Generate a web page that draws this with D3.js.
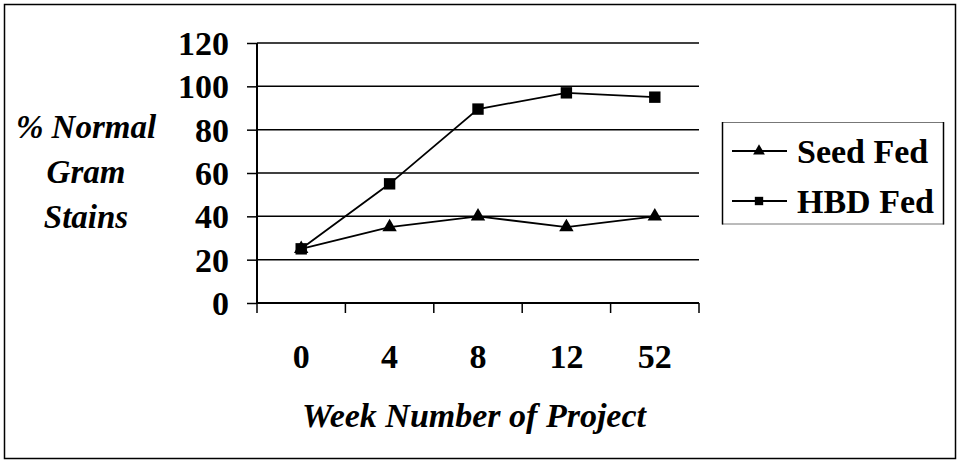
<!DOCTYPE html>
<html>
<head>
<meta charset="utf-8">
<script src="https://cdn.jsdelivr.net/npm/d3@7"></script>
</head>
<body style="margin:0">
<svg width="961" height="462" font-family="Liberation Serif"></svg>
<script>
var weeks = ['0', '4', '8', '12', '52'];
var seedFed = [25, 35, 40, 35, 40];
var hbdFed = [25, 55, 89.5, 97, 95];
var yTicks = [0, 20, 40, 60, 80, 100, 120];
var seriesNames = ['Seed Fed', 'HBD Fed'];
var yLabelLines = ['% Normal', 'Gram', 'Stains'];
var xTitle = 'Week Number of Project';

var svg = d3.select('svg');

function styleText(sel, italic, size) {
    sel.attr('font-family', 'Liberation Serif')
        .attr('font-weight', 'bold')
        .attr('font-style', italic ? 'italic' : 'normal')
        .attr('font-size', size || 34)
        .attr('fill', '#000');
}

// outer frame
svg.append('rect')
    .attr('x', 4.5).attr('y', 4.5)
    .attr('width', 951).attr('height', 454)
    .attr('fill', 'none')
    .attr('stroke', '#000')
    .attr('stroke-width', 1.5);

var plotL = 257, plotR = 699, plotT = 43, plotB = 303;

var x = d3.scaleBand().domain(weeks).range([plotL, plotR]);
var y = d3.scaleLinear().domain([0, 120]).range([plotB, plotT]);

var g = svg.append('g');

// gridlines
g.selectAll('.grid')
    .data(yTicks.filter(function(d){ return d > 0; }))
    .enter()
    .append('line')
    .attr('x1', plotL).attr('x2', plotR)
    .attr('y1', function(d){ return y(d); })
    .attr('y2', function(d){ return y(d); })
    .attr('stroke', '#000')
    .attr('stroke-width', 1.5);

// y axis
var yAxis = g.append('g')
    .attr('transform', 'translate(' + plotL + ',0)')
    .call(d3.axisLeft(y).tickValues(yTicks).tickSize(10).tickPadding(18));
yAxis.attr('font-family', 'Liberation Serif');
yAxis.select('.domain').attr('stroke-width', 2).attr('d', 'M0,' + plotT + 'V' + plotB);
yAxis.selectAll('.tick line').attr('stroke-width', 1.5);
yAxis.selectAll('.tick text')
    .call(styleText, false)
    .attr('dy', '0.34em');

// x axis: ticks on band boundaries
var bounds = weeks.map(function(w){ return x(w); }).concat([plotR]);
g.append('line')
    .attr('x1', plotL).attr('x2', plotR)
    .attr('y1', plotB).attr('y2', plotB)
    .attr('stroke', '#000').attr('stroke-width', 2);
g.selectAll('.xtick')
    .data(bounds)
    .enter()
    .append('line')
    .attr('x1', function(d){ return d; })
    .attr('x2', function(d){ return d; })
    .attr('y1', plotB).attr('y2', plotB + 10)
    .attr('stroke', '#000').attr('stroke-width', 1.5);
g.selectAll('.xlab')
    .data(weeks)
    .enter()
    .append('text')
    .attr('x', function(d){ return x(d) + x.bandwidth() / 2; })
    .attr('y', 368)
    .attr('text-anchor', 'middle')
    .call(styleText, false)
    .text(function(d){ return d; });

// axis titles
svg.append('text')
    .attr('x', (plotL + plotR) / 2 - 4)
    .attr('y', 427)
    .attr('text-anchor', 'middle')
    .call(styleText, true)
    .text(xTitle);

svg.selectAll('.ylab')
    .data(yLabelLines)
    .enter()
    .append('text')
    .attr('x', 86)
    .attr('y', function(d, i){ return 138 + i * 45; })
    .attr('text-anchor', 'middle')
    .call(styleText, true, 33)
    .text(function(d){ return d; });

// lines
var line = d3.line()
    .x(function(d, i){ return x(weeks[i]) + x.bandwidth() / 2; })
    .y(function(d){ return y(d); });

var tri = d3.symbol().type(d3.symbolTriangle).size(90);
var sq = d3.symbol().type(d3.symbolSquare).size(130);

[seedFed, hbdFed].forEach(function(vals, k){
    g.append('path')
        .datum(vals)
        .attr('d', line)
        .attr('fill', 'none')
        .attr('stroke', '#000')
        .attr('stroke-width', 1.8);
    g.selectAll('.m' + k)
        .data(vals)
        .enter()
        .append('path')
        .attr('transform', function(d, i){
            return 'translate(' + (x(weeks[i]) + x.bandwidth() / 2) + ',' + y(d) + ')';
        })
        .attr('d', k === 0 ? tri : sq)
        .attr('fill', '#000');
});

// legend
var leg = svg.append('g');
leg.append('rect')
    .attr('x', 722.5).attr('y', 122.5)
    .attr('width', 221).attr('height', 101.5)
    .attr('fill', '#fff')
    .attr('stroke', '#777')
    .attr('stroke-width', 1);
leg.append('line').attr('x1', 722.5).attr('x2', 722.5).attr('y1', 122).attr('y2', 224.5)
    .attr('stroke', '#000').attr('stroke-width', 1.5);
leg.append('line').attr('x1', 943.5).attr('x2', 943.5).attr('y1', 122).attr('y2', 224.5)
    .attr('stroke', '#000').attr('stroke-width', 1.5);

var legY = [151, 201];
seriesNames.forEach(function(name, k){
    leg.append('line')
        .attr('x1', 732).attr('x2', 787)
        .attr('y1', legY[k]).attr('y2', legY[k])
        .attr('stroke', '#000').attr('stroke-width', 1.8);
    leg.append('path')
        .attr('transform', 'translate(759,' + legY[k] + ')')
        .attr('d', k === 0 ? d3.symbol().type(d3.symbolTriangle).size(60) : d3.symbol().type(d3.symbolSquare).size(70))
        .attr('fill', '#000');
    leg.append('text')
        .attr('x', 797)
        .attr('y', legY[k] + 12)
        .call(styleText, false)
        .text(name);
});
</script>
</body>
</html>
